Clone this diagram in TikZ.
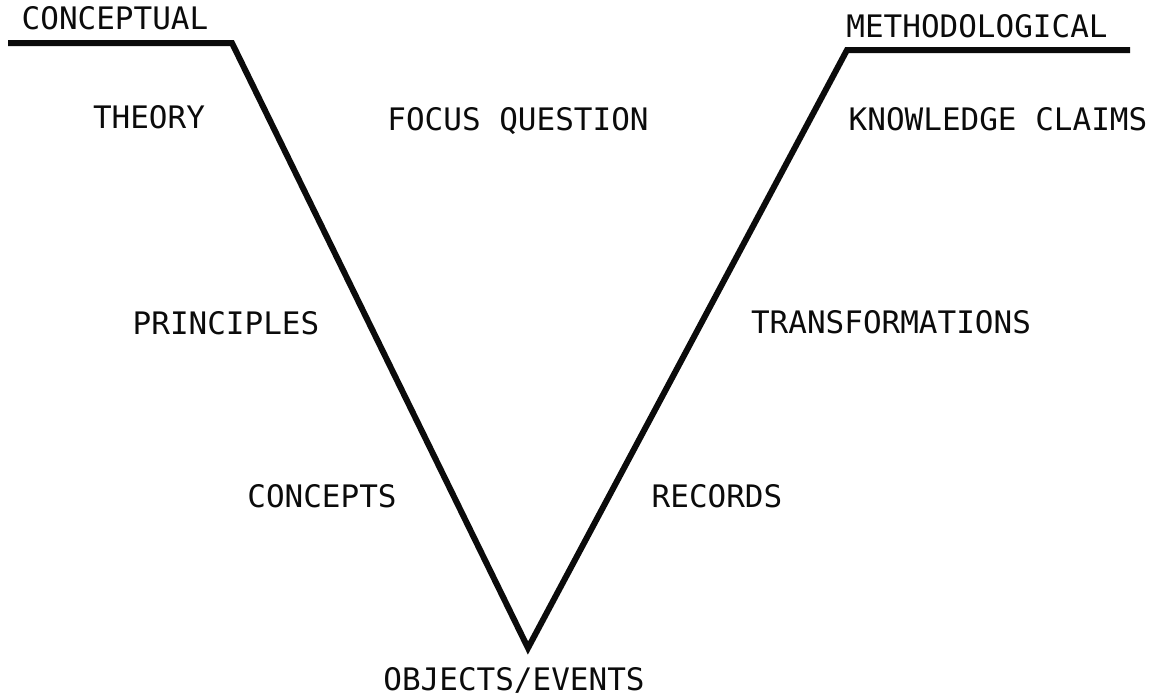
\documentclass[tikz,border=0pt]{standalone}
\usepackage{fontspec}
\setmonofont{DejaVu Sans Mono}
\usepackage{xcolor}
\usepackage{tikz}
\usetikzlibrary{positioning}
\definecolor{ink}{HTML}{0B0B0B}

\begin{document}
\begin{tikzpicture}[x=1pt, y=-1pt,
          lbl/.style={font=\ttfamily\fontsize{31}{32}\selectfont, text=ink,
                      inner sep=0pt, anchor=base},
          vline/.style={draw=ink, line width=6pt, line join=miter}]
  \useasboundingbox (0,0) rectangle (1168,696);
  % the two arms of the V
  \coordinate (lend) at (8,43);
  \coordinate (ltop) at (232,43);
  \coordinate (vbot) at (528,648);
  \coordinate (rtop) at (847,50);
  \coordinate (rend) at (1130,50);
  \draw[vline] (lend) -- (ltop) -- (vbot) -- (rtop) -- (rend);
  % headings
  \node[lbl] (concl) at (115,30) {CONCEPTUAL};
  \node[lbl] (methl) at (977,37) {METHODOLOGICAL};
  % left side
  \node[lbl] (theory) at (149,128) {THEORY};
  \node[lbl] (princ) at (226,334) {PRINCIPLES};
  \node[lbl] (concepts) at (322,507) {CONCEPTS};
  % middle
  \node[lbl] (focus) at (518,130) {FOCUS QUESTION};
  \node[lbl] (objects) at (514,690) {OBJECTS/EVENTS};
  % right side
  \node[lbl] (claims) at (998,130) {KNOWLEDGE CLAIMS};
  \node[lbl] (transf) at (891,333) {TRANSFORMATIONS};
  \node[lbl] (records) at (717,507) {RECORDS};
\end{tikzpicture}
\end{document}
